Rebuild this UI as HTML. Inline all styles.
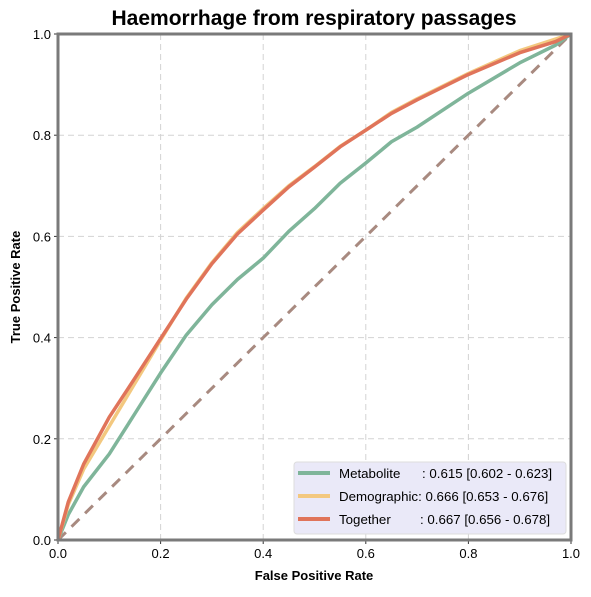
<!DOCTYPE html>
<html><head><meta charset="utf-8"><style>
body{margin:0;background:#fff;font-family:"Liberation Sans",Arial,sans-serif}
text{white-space:pre}
</style></head><body>
<svg id="chart" width="591" height="592" xmlns="http://www.w3.org/2000/svg" font-family="Liberation Sans, Arial, sans-serif">
<text x="314" y="25" text-anchor="middle" font-size="21" font-weight="bold">Haemorrhage from respiratory passages</text>
<g id="grid"></g><g id="series"></g><g id="axes"></g>
<text x="314" y="580" text-anchor="middle" font-size="13" font-weight="bold">False Positive Rate</text>
<text transform="translate(20,287) rotate(-90)" text-anchor="middle" font-size="13" font-weight="bold">True Positive Rate</text>
<g>
<rect x="294" y="462" width="272" height="72" rx="3" fill="#eae9f8" stroke="#ddd"/>
<line x1="298" y1="473" x2="330" y2="473" stroke="#7fb59a" stroke-width="4"/>
<text x="339" y="478" font-size="13.3">Metabolite</text><text x="422" y="478" font-size="13.3">: 0.615 [0.602 - 0.623]</text>
<line x1="298" y1="496" x2="330" y2="496" stroke="#f3c87f" stroke-width="4"/>
<text x="339" y="501" font-size="13.3">Demographic: 0.666 [0.653 - 0.676]</text>
<line x1="298" y1="519" x2="330" y2="519" stroke="#e0745a" stroke-width="4"/>
<text x="339" y="524" font-size="13.3">Together</text><text x="420" y="524" font-size="13.3">: 0.667 [0.656 - 0.678]</text>
</g>
</svg>
<script>
const ticks=[0,0.2,0.4,0.6,0.8,1.0];
const tickLabels=["0.0","0.2","0.4","0.6","0.8","1.0"];
const fpr=[0,0.02,0.05,0.1,0.15,0.2,0.25,0.3,0.35,0.4,0.45,0.5,0.55,0.6,0.65,0.7,0.8,0.9,0.97,1];
const metabolite=[0,0.05,0.105,0.17,0.25,0.33,0.405,0.465,0.515,0.557,0.61,0.655,0.705,0.745,0.787,0.816,0.883,0.943,0.978,1];
const demographic=[0,0.07,0.14,0.225,0.31,0.395,0.478,0.548,0.608,0.655,0.7,0.738,0.778,0.81,0.845,0.872,0.922,0.967,0.99,1];
const together=[0,0.075,0.15,0.243,0.32,0.398,0.476,0.546,0.605,0.652,0.698,0.737,0.777,0.81,0.843,0.87,0.92,0.963,0.985,1];
const X0=58,X1=571,Y0=540,Y1=34;
const sx=v=>X0+(X1-X0)*v, sy=v=>Y0-(Y0-Y1)*v;
const NS="http://www.w3.org/2000/svg";
function mk(tag,attrs,parent){const e=document.createElementNS(NS,tag);for(const k in attrs)e.setAttribute(k,attrs[k]);parent.appendChild(e);return e;}
const grid=document.getElementById('grid'),axes=document.getElementById('axes'),ser=document.getElementById('series');
ticks.forEach((t,i)=>{
  if(t>0&&t<1){
    const gx=mk('line',{x1:sx(t),x2:sx(t),y1:Y1,y2:Y0,stroke:'#d3d3d3','stroke-dasharray':'6,4'},grid);
    
    
    const gy=mk('line',{x1:X0,x2:X1,y1:sy(t),y2:sy(t),stroke:'#d3d3d3','stroke-dasharray':'6,4'},grid);
    
    
  }
  const xt=mk('text',{x:sx(t),y:Y0+18,'text-anchor':'middle','font-size':13},axes);xt.textContent=tickLabels[i];
  
  
  mk('line',{x1:sx(t),x2:sx(t),y1:Y0,y2:Y0+4,stroke:'#333'},axes);
  const yt=mk('text',{x:X0-7,y:sy(t)+5,'text-anchor':'end','font-size':13},axes);yt.textContent=tickLabels[i];
  
  
  mk('line',{x1:X0-4,x2:X0,y1:sy(t),y2:sy(t),stroke:'#333'},axes);
});
const diag=mk('line',{x1:sx(0),y1:sy(0),x2:sx(1),y2:sy(1),stroke:'#a88a80','stroke-width':3,'stroke-dasharray':'11,8'},ser);


[[metabolite,'#7fb59a','metabolite-curve'],[demographic,'#f3c87f','demographic-curve'],[together,'#e0745a','together-curve']].forEach(([d,c,n])=>{
  const p=mk('polyline',{points:fpr.map((f,i)=>sx(f)+','+sy(d[i])).join(' '),fill:'none',stroke:c,'stroke-width':3.5,'stroke-linejoin':'round'},ser);
  
  
});
const fr=mk('rect',{x:X0,y:Y1,width:X1-X0,height:Y0-Y1,fill:'none',stroke:'#7a7a7a','stroke-width':3},axes);


</script>
</body></html>
